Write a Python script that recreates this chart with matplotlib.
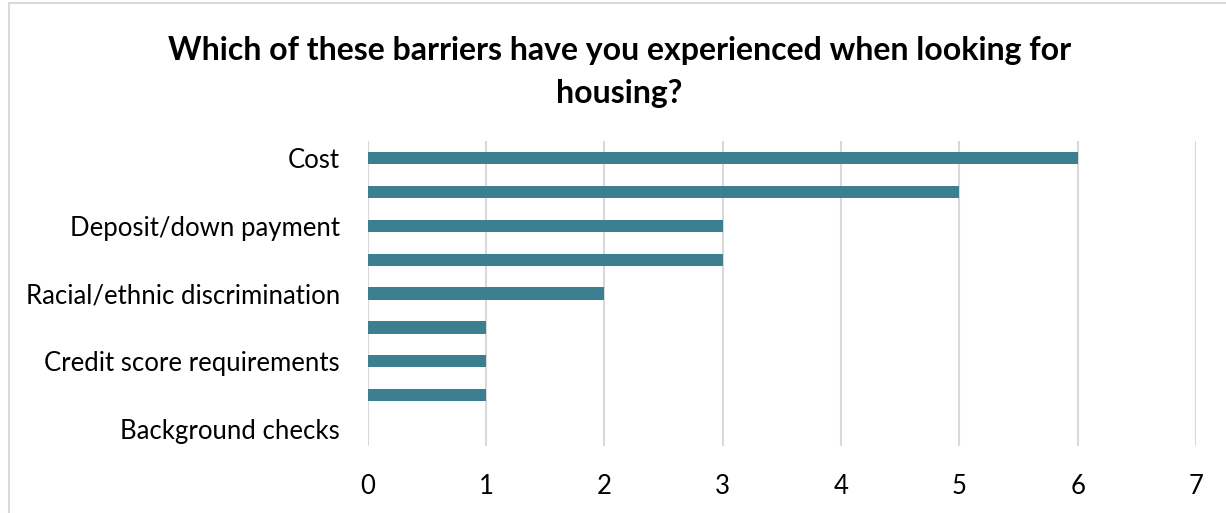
import matplotlib.pyplot as plt
from matplotlib.patches import Rectangle

plt.rcParams['font.family'] = ['Lato', 'DejaVu Sans']

# Every other category name is hidden on the axis, as in the source workbook
categories = ['Cost', '', 'Deposit/down payment', '', 'Racial/ethnic discrimination',
              '', 'Credit score requirements', '', 'Background checks']
counts = [6, 5, 3, 3, 2, 1, 1, 1, 0]
x_ticks = [0, 1, 2, 3, 4, 5, 6, 7]

bar_color = '#3b7f91'
grid_color = '#d9d9d9'

fig = plt.figure(figsize=(12.26, 5.13), dpi=100)
ax = fig.add_axes([0.300, 0.1306, 0.6755, 0.5944])

positions = list(range(len(categories)))
ax.barh(positions, counts, height=0.36, color=bar_color, zorder=3)

ax.set_ylim(len(categories) - 0.5, -0.5)
ax.set_xlim(0, 7)
ax.set_xticks(x_ticks)
ax.set_yticks(positions)
ax.set_yticklabels(categories)

ax.grid(axis='x', color=grid_color, linewidth=1.5, zorder=0)
for side in ['top', 'right', 'bottom', 'left']:
    ax.spines[side].set_visible(False)

ax.tick_params(axis='both', length=0, labelsize=18.5, colors='#000000')
ax.tick_params(axis='x', pad=20)
ax.tick_params(axis='y', pad=20)

fig.suptitle('Which of these barriers have you experienced when looking for\nhousing?',
             x=0.505, y=0.93, fontsize=23, fontweight='bold', linespacing=1.6)

# light chart-area border
fig.patches.append(Rectangle((0.007, -0.01), 1.5, 1.004, transform=fig.transFigure,
                             fill=False, edgecolor='#d9d9d9', linewidth=1.5))

fig.savefig('out.png', dpi=100, facecolor='white')
